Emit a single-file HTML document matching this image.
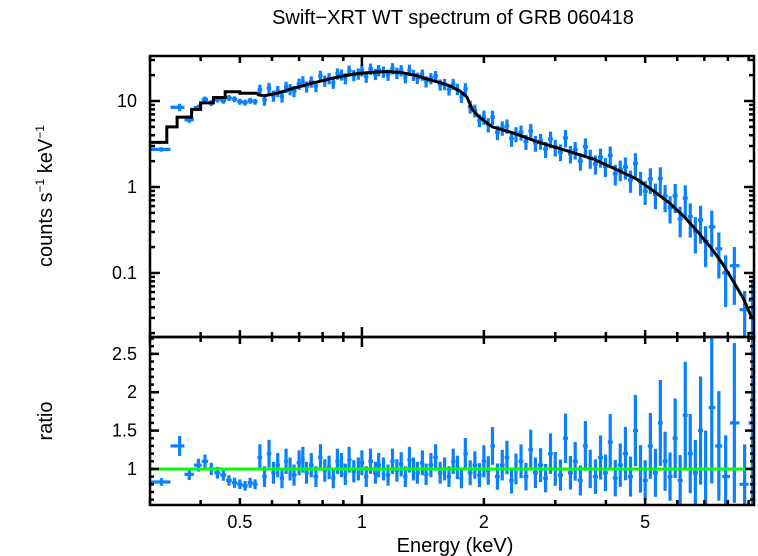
<!DOCTYPE html>
<html><head><meta charset="utf-8">
<style>
html,body{margin:0;padding:0;background:#fff;}
svg{display:block;font-family:"Liberation Sans",sans-serif;}
</style></head>
<body>
<svg id="chart" width="758" height="556" viewBox="0 0 758 556" xmlns="http://www.w3.org/2000/svg">
<text x="453" y="24" font-size="20" text-anchor="middle">Swift−XRT WT spectrum of GRB 060418</text>
<text transform="translate(52,196) rotate(-90)" font-size="20" text-anchor="middle">counts s<tspan font-size="12" dy="-8">−1</tspan><tspan dy="8"> keV</tspan><tspan font-size="12" dy="-8">−1</tspan></text>
<text transform="translate(52,421) rotate(-90)" font-size="20" text-anchor="middle">ratio</text>
<text x="455" y="552" font-size="20" text-anchor="middle">Energy (keV)</text>
<g id="marks"></g>
<g id="axes"></g>
</svg>
<script>
// ---- data ----
const modelEdges=[0.3,0.33,0.35,0.38,0.40,0.43,0.46,0.50,0.55,0.6,0.65,0.7,0.8,0.9,1.0,1.1,1.2,1.3,1.4,1.5,1.6,1.7,1.8,1.84,1.9,2.0,2.2,2.5,3,3.5,4,4.5,5,5.5,6,6.5,7,7.5,8,8.5,9,9.33];
const modelValues=[3.3,5,6.5,8,9.5,11,12.8,12.3,11.5,12.5,14,16,18.5,20.5,21.5,22,21.5,20,18,16.5,15,13,11,8,6.5,5,4.3,3.3,2.6,2.1,1.6,1.25,0.9,0.65,0.45,0.3,0.2,0.13,0.08,0.05,0.03];
const dataEnergies=[0.32,0.355,0.375,0.395,0.41,0.425,0.44,0.455,0.47,0.485,0.5,0.515,0.53,0.545,
0.56,0.575,0.59,0.605,0.62,0.635,0.65,0.665,0.68,0.70,
0.715,0.73,0.75,0.77,0.79,0.81,0.83,0.85,0.87,0.89,
0.91,0.93,0.955,0.98,1.0,1.025,1.05,1.08,1.1,1.13,
1.16,1.19,1.22,1.25,1.28,1.31,1.34,1.37,1.41,1.44,
1.48,1.52,1.56,1.6,1.64,1.68,1.72,1.76,1.8,1.85,
1.9,1.95,2.0,2.05,2.1,2.16,2.22,2.28,2.34,2.4,
2.47,2.54,2.61,2.68,2.76,2.84,2.92,3.0,3.09,3.18,
3.27,3.36,3.46,3.56,3.66,3.77,3.88,3.99,4.1,4.22,
4.34,4.47,4.6,4.73,4.87,5.0,5.15,5.3,5.45,5.6,
5.76,5.93,6.1,6.28,6.46,6.65,6.85,7.05,7.3,7.6,
7.9,8.3,8.8,9.2];
const dataRatios=[0.83,1.3,0.93,1.05,1.1,1.0,0.95,0.92,0.85,0.82,0.8,0.78,0.82,0.8,
1.15,0.9,1.2,0.95,1.05,0.88,1.1,1.0,0.92,1.08,
1.12,0.95,1.05,0.9,1.15,0.98,1.02,0.88,1.1,1.05,
0.93,1.12,0.97,1.0,1.08,0.9,1.1,0.95,1.05,1.0,
0.92,1.1,0.98,1.06,0.9,1.12,1.0,0.95,1.08,0.93,
1.05,1.15,0.95,1.0,0.9,1.1,1.02,0.88,1.2,0.95,
1.05,0.92,1.1,0.98,1.3,0.9,1.05,1.15,0.85,1.0,
1.1,0.9,1.25,0.95,1.05,0.88,1.2,1.0,0.92,1.4,
0.95,1.1,0.85,1.3,1.0,0.9,1.15,0.95,1.35,0.88,
1.05,1.2,0.9,1.5,1.0,0.85,1.3,0.95,1.6,1.1,
0.9,1.4,0.85,1.7,1.2,0.95,1.5,1.0,1.8,1.3,
0.9,1.6,0.8,1.6];
const dataRelErr=[0.06,0.1,0.08,0.08,0.08,0.08,0.08,0.08,0.08,0.08,0.08,0.08,0.08,0.08,
0.15,0.15,0.15,0.15,0.15,0.15,0.15,0.15,0.15,0.15,
0.15,0.15,0.15,0.15,0.15,0.15,0.15,0.15,0.15,0.15,
0.15,0.15,0.15,0.15,0.15,0.15,0.15,0.15,0.15,0.15,
0.15,0.15,0.15,0.15,0.15,0.15,0.15,0.15,0.15,0.15,
0.15,0.15,0.15,0.15,0.15,0.15,0.15,0.15,0.17,0.17,
0.17,0.17,0.19,0.19,0.19,0.19,0.19,0.19,0.2,0.2,
0.2,0.2,0.21,0.21,0.21,0.21,0.22,0.22,0.22,0.23,
0.23,0.23,0.23,0.25,0.25,0.25,0.25,0.25,0.27,0.27,
0.27,0.29,0.29,0.31,0.31,0.31,0.33,0.33,0.35,0.35,
0.35,0.37,0.39,0.41,0.43,0.45,0.47,0.5,0.55,0.55,
0.6,0.65,0.65,0.75];
const xTickMajor=[0.5,1,2,5];
const xTickMajorLabels=["0.5","1","2","5"];
const xTickMinor=[0.3,0.4,0.6,0.7,0.8,0.9,3,4,6,7,8,9];
const yTopMajor=[0.1,1,10];
const yTopMajorLabels=["0.1","1","10"];
const yBotMajor=[1,1.5,2,2.5];
const yBotMajorLabels=["1","1.5","2","2.5"];

// ---- scales ----
const L=150,R=754,T=56,M=337,B=505;
const xMin=0.3,xMax=9.28;
const X=e=>L+(Math.log10(e)-Math.log10(xMin))/(Math.log10(xMax)-Math.log10(xMin))*(R-L);
const yTopMin=0.018,yTopMax=33.4;
const YT=v=>M-(Math.log10(Math.max(v,1e-4))-Math.log10(yTopMin))/(Math.log10(yTopMax)-Math.log10(yTopMin))*(M-T);
const yBotMin=0.53,yBotMax=2.72;
const YB=v=>B-(v-yBotMin)/(yBotMax-yBotMin)*(B-M);
const centres=modelValues.map((v,i)=>Math.sqrt(modelEdges[i]*modelEdges[i+1]));
const model=e=>{
  if(e<0.55){for(let i=0;i<modelValues.length;i++){if(e<modelEdges[i+1])return modelValues[i];}}
  for(let i=0;i<centres.length-1;i++){
    if(e<centres[i+1]){if(e<centres[i])return modelValues[i];
      const t=(Math.log(e)-Math.log(centres[i]))/(Math.log(centres[i+1])-Math.log(centres[i]));
      return Math.exp(Math.log(modelValues[i])*(1-t)+Math.log(modelValues[i+1])*t);}
  }
  return modelValues[modelValues.length-1];
};

const NS="http://www.w3.org/2000/svg";
const marks=document.getElementById('marks'),axes=document.getElementById('axes');
function mk(tag,parent,attrs){const el=document.createElementNS(NS,tag);for(const k in attrs)el.setAttribute(k,attrs[k]);parent.appendChild(el);return el;}

const defs=mk('defs',marks,{});
const c1=mk('clipPath',defs,{id:'clipTop'});mk('rect',c1,{x:L,y:T,width:R-L,height:M-T});
const c2=mk('clipPath',defs,{id:'clipBot'});mk('rect',c2,{x:L,y:M,width:R-L,height:B-M});
const gTop=mk('g',marks,{'clip-path':'url(#clipTop)'});


const gBot=mk('g',marks,{'clip-path':'url(#clipBot)'});



const n=Math.min(dataEnergies.length,dataRatios.length,dataRelErr.length);
const blue='#0a80ff';
for(let i=0;i<n;i++){
  const e=dataEnergies[i];
  const lo=i>0?Math.sqrt(dataEnergies[i-1]*e):e*0.94;
  const hi=i<n-1?Math.sqrt(dataEnergies[i+1]*e):Math.min(e*1.04,xMax);
  const r=dataRatios[i],re=dataRelErr[i];
  const c=model(e)*r;
  const g=mk('g',gTop,{stroke:blue,'stroke-width':3.2});
  
  
  mk('line',g,{x1:X(lo),x2:X(hi),y1:YT(c),y2:YT(c)});
  mk('line',g,{x1:X(e),x2:X(e),y1:YT(c*(1+re)),y2:YT(Math.max(c*(1-re),1e-4))});
  const g2=mk('g',gBot,{stroke:blue,'stroke-width':3.2});
  
  
  mk('line',g2,{x1:X(lo),x2:X(hi),y1:YB(r),y2:YB(r)});
  mk('line',g2,{x1:X(e),x2:X(e),y1:YB(r*(1+re)),y2:YB(r*(1-re))});
}
let d='';
for(let i=0;i<modelValues.length;i++){
  if(modelEdges[i]>=0.55)break;
  const y=YT(modelValues[i]);
  d+=(i===0?'M':'L')+X(modelEdges[i]).toFixed(1)+','+y.toFixed(1)+' L'+X(modelEdges[i+1]).toFixed(1)+','+y.toFixed(1)+' ';
}
for(let px=X(0.55);px<=R+2;px+=2){
  const e=Math.pow(10,Math.log10(xMin)+(px-L)/(R-L)*(Math.log10(xMax)-Math.log10(xMin)));
  d+='L'+px.toFixed(1)+','+YT(model(e)).toFixed(1)+' ';
}
const mp=mk('path',gTop,{d:d,fill:'none',stroke:'#000','stroke-width':3});


const ul=mk('line',gBot,{x1:L,x2:R,y1:YB(1),y2:YB(1),stroke:'#00ff00','stroke-width':3});



const f1=mk('rect',axes,{x:L,y:T,width:R-L,height:M-T,fill:'none',stroke:'#000','stroke-width':2.5});


const f2=mk('rect',axes,{x:L,y:M,width:R-L,height:B-M,fill:'none',stroke:'#000','stroke-width':2.5});



const tk=mk('g',axes,{stroke:'#000','stroke-width':2.5});


function xt(e,len){const x=X(e);
  mk('line',tk,{x1:x,x2:x,y1:T,y2:T+len});
  mk('line',tk,{x1:x,x2:x,y1:M-len,y2:M+len});
  mk('line',tk,{x1:x,x2:x,y1:B,y2:B-len});}
xTickMajor.forEach(e=>xt(e,e===1?10:7));
xTickMinor.forEach(e=>xt(e,5));
xTickMajor.forEach((e,i)=>{const t=mk('text',axes,{x:X(e),y:528,'font-size':18,'text-anchor':'middle'});t.textContent=xTickMajorLabels[i];
  
  });
function ytT(v,len){const y=YT(v);mk('line',tk,{x1:L,x2:L+len,y1:y,y2:y});mk('line',tk,{x1:R,x2:R-len,y1:y,y2:y});}
[0.01,0.1,1,10].forEach(b=>{for(let k=2;k<=9;k++){const v=b*k;if(v>yTopMin&&v<yTopMax)ytT(v,5);}});
yTopMajor.forEach((v,i)=>{ytT(v,10);const t=mk('text',axes,{x:137,y:YT(v)+6,'font-size':18,'text-anchor':'end'});t.textContent=yTopMajorLabels[i];
  
  });
function ytB(v,len){const y=YB(v);mk('line',tk,{x1:L,x2:L+len,y1:y,y2:y});mk('line',tk,{x1:R,x2:R-len,y1:y,y2:y});}
for(let v=0.6;v<2.72;v+=0.1){ytB(v,4);}
yBotMajor.forEach((v,i)=>{ytB(v,9);const t=mk('text',axes,{x:137,y:YB(v)+6,'font-size':18,'text-anchor':'end'});t.textContent=yBotMajorLabels[i];
  
  });
</script>
</body></html>
